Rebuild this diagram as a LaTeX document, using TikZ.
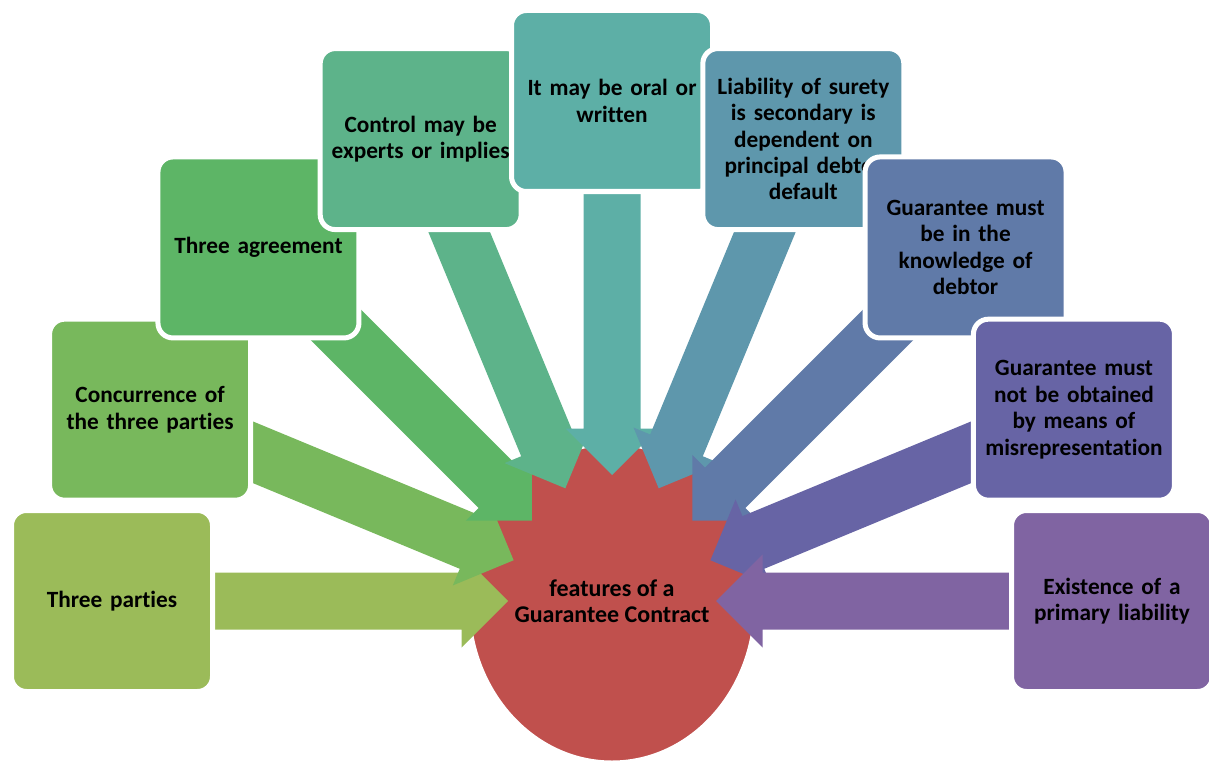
\documentclass[tikz,border=0pt]{standalone}
\usepackage{fontspec}
\setmainfont{Carlito}[Ligatures=CommonOff]
\usetikzlibrary{calc,shapes.geometric}
\definecolor{c1}{HTML}{9BBB59}
\definecolor{c2}{HTML}{78B85C}
\definecolor{c3}{HTML}{5DB566}
\definecolor{c4}{HTML}{5DB38A}
\definecolor{c5}{HTML}{5DAFA6}
\definecolor{c6}{HTML}{5E97AC}
\definecolor{c7}{HTML}{607AA8}
\definecolor{c8}{HTML}{6764A5}
\definecolor{c9}{HTML}{8064A2}
\definecolor{hubred}{HTML}{C0504D}
\tikzset{
  box/.style={rounded corners=15pt, draw=white, line width=5pt,
    minimum width=201pt, minimum height=181pt, text width=200pt,
    align=center, inner sep=0pt,
    font=\bfseries\fontsize{23.3}{26.4}\selectfont},
  hub/.style={ellipse, fill=hubred, draw=white, line width=3pt,
    minimum width=286pt, minimum height=318pt, inner sep=0pt},
  hubtext/.style={align=center, inner sep=0pt,
    font=\bfseries\fontsize{24}{26.4}\selectfont}
}
\begin{document}
\begin{tikzpicture}[x=1pt,y=-1pt]
\useasboundingbox (0,0) rectangle (1209,762);
\coordinate (C) at (612,601);
\node[hub] (hubshape) at (612,603) {};
% arrows
\foreach \k/\r/\c in {0/104/c1, 1/106.5/c2, 2/113.5/c3, 3/122/c4, 4/126/c5, 5/122/c6, 6/113.5/c7, 7/106.5/c8, 8/104/c9} {
  \pgfmathsetmacro\t{180+22.5*\k}
  \coordinate (p\k) at ($(C)+(\t:500)$);
  \coordinate (tip\k) at ($(C)+(\t:\r)$);
  \fill[\c] (tip\k)
    -- ($(tip\k)+(\t:46.5)+({\t+90}:46.5)$)
    -- ($(tip\k)+(\t:46.5)+({\t+90}:28.5)$)
    -- ($(p\k)+({\t+90}:28.5)$)
    -- ($(p\k)+({\t-90}:28.5)$)
    -- ($(tip\k)+(\t:46.5)+({\t-90}:28.5)$)
    -- ($(tip\k)+(\t:46.5)+({\t-90}:46.5)$)
    -- cycle;
}
\node[hubtext] (hublabel) at (612,601) {features of a\\Guarantee Contract};
% boxes
\node[box, fill=c1] (b0) at (p0) {Three parties};
\node[box, fill=c2] (b1) at (p1) {Concurrence of\\the three parties};
\node[box, fill=c3] (b2) at (p2) {Three agreement};
\node[box, fill=c4] (b3) at (p3) {Control may be\\experts or implies};
\node[box, fill=c5] (b4) at (p4) {It may be oral or\\written};
\node[box, fill=c6] (b5) at (p5) {Liability of surety\\is secondary is\\dependent on\\principal debtor\\default};
\node[box, fill=c7] (b6) at (p6) {Guarantee must\\be in the\\knowledge of\\debtor};
\node[box, fill=c8] (b7) at (p7) {Guarantee must\\not be obtained\\by means of\\misrepresentation};
\node[box, fill=c9] (b8) at (p8) {Existence of a\\primary liability};
\end{tikzpicture}
\end{document}
